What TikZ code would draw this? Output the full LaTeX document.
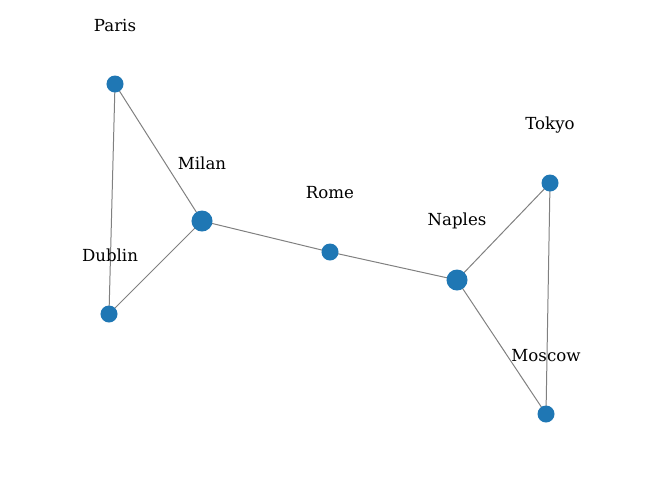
\documentclass[tikz,border=0pt]{standalone}
\usepackage{fontspec}
\setmainfont{DejaVu Serif}
\usetikzlibrary{backgrounds}
\definecolor{nodeblue}{RGB}{31,119,180}
\begin{document}
\begin{tikzpicture}[x=0.01in,y=-0.01in,
  city/.style={circle,fill=nodeblue,inner sep=0pt,minimum size=0.17in},
  hub/.style={city,minimum size=0.21in},
  lbl/.style={font=\fontsize{12pt}{14pt}\selectfont,inner sep=0pt,anchor=center},
  link/.style={draw=gray,line width=0.72pt}]
\path[use as bounding box] (0,0) rectangle (660,499);
\node[city] (paris) at (115,84) {};
\node[hub] (milan) at (202,221) {};
\node[city] (dublin) at (109,314) {};
\node[city] (rome) at (330,252) {};
\node[hub] (naples) at (457,280) {};
\node[city] (tokyo) at (550,183) {};
\node[city] (moscow) at (546,414) {};
\begin{scope}[on background layer]
\draw[link] (paris.center) -- (milan.center);
\draw[link] (paris.center) -- (dublin.center);
\draw[link] (milan.center) -- (dublin.center);
\draw[link] (milan.center) -- (rome.center);
\draw[link] (rome.center) -- (naples.center);
\draw[link] (naples.center) -- (tokyo.center);
\draw[link] (naples.center) -- (moscow.center);
\draw[link] (tokyo.center) -- (moscow.center);
\end{scope}
\node[lbl] (lparis) at (115,25) {Paris};
\node[lbl] (lmilan) at (202,163) {Milan};
\node[lbl] (ldublin) at (110,255) {Dublin};
\node[lbl] (lrome) at (330,193) {Rome};
\node[lbl] (lnaples) at (457,221) {Naples};
\node[lbl] (ltokyo) at (550,125) {Tokyo};
\node[lbl] (lmoscow) at (546,356) {Moscow};
\end{tikzpicture}
\end{document}
